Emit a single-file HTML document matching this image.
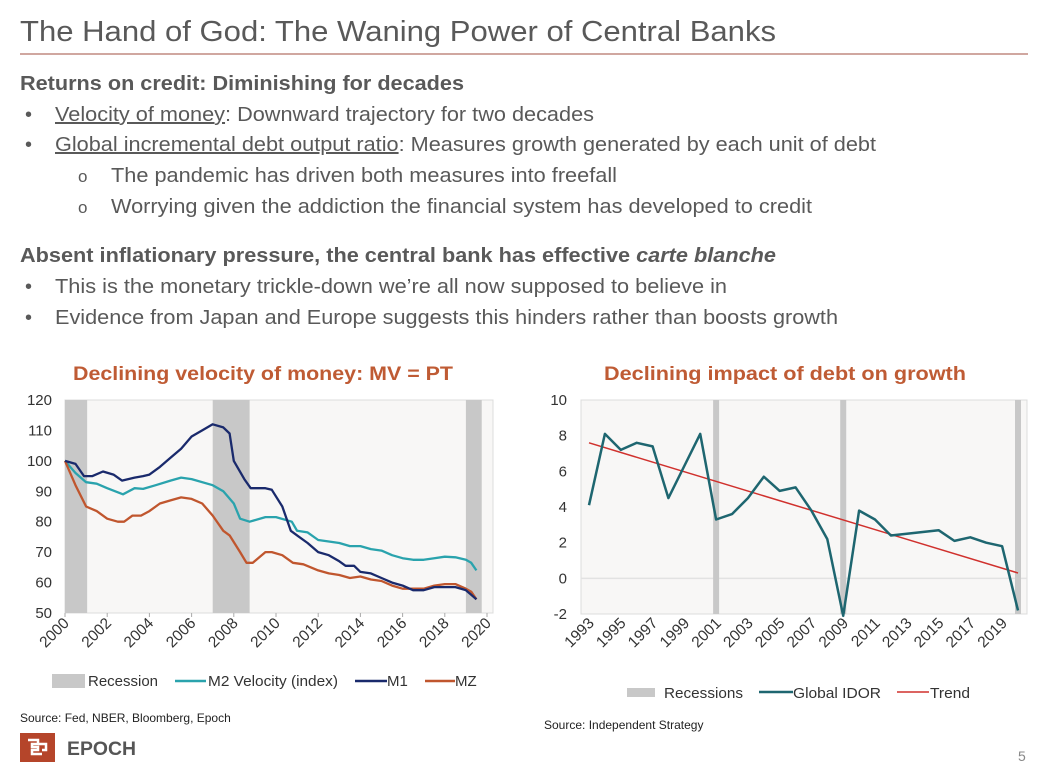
<!DOCTYPE html>
<html><head><meta charset="utf-8"><style>
html,body{margin:0;padding:0;background:#fff;}
svg{display:block;font-family:"Liberation Sans",Arial,sans-serif;}
</style></head><body>
<svg id="root" width="1058" height="770" viewBox="0 0 1058 770" xmlns="http://www.w3.org/2000/svg">
<text x="20" y="41" font-size="29" fill="#595959" textLength="756" lengthAdjust="spacingAndGlyphs">The Hand of God: The Waning Power of Central Banks</text>
<line x1="20" y1="54" x2="1028" y2="54" stroke="#c08a80" stroke-width="1.5"/>
<g fill="#595959" font-size="20">
<text x="20" y="90" font-weight="bold" textLength="444" lengthAdjust="spacingAndGlyphs">Returns on credit: Diminishing for decades</text>
<text x="25" y="121">•</text>
<text x="55" y="121" textLength="539" lengthAdjust="spacingAndGlyphs"><tspan text-decoration="underline">Velocity of money</tspan>: Downward trajectory for two decades</text>
<text x="25" y="151">•</text>
<text x="55" y="151" textLength="821" lengthAdjust="spacingAndGlyphs"><tspan text-decoration="underline">Global incremental debt output ratio</tspan>: Measures growth generated by each unit of debt</text>
<text x="78" y="182" font-size="17">o</text>
<text x="111" y="182" textLength="506" lengthAdjust="spacingAndGlyphs">The pandemic has driven both measures into freefall</text>
<text x="78" y="213" font-size="17">o</text>
<text x="111" y="213" textLength="701" lengthAdjust="spacingAndGlyphs">Worrying given the addiction the financial system has developed to credit</text>
<text x="20" y="262" font-weight="bold" textLength="756" lengthAdjust="spacingAndGlyphs">Absent inflationary pressure, the central bank has effective <tspan font-style="italic">carte blanche</tspan></text>
<text x="25" y="293">•</text>
<text x="55" y="293" textLength="672" lengthAdjust="spacingAndGlyphs">This is the monetary trickle-down we’re all now supposed to believe in</text>
<text x="25" y="324">•</text>
<text x="55" y="324" textLength="783" lengthAdjust="spacingAndGlyphs">Evidence from Japan and Europe suggests this hinders rather than boosts growth</text>
</g>
<text x="73" y="380" font-size="19" font-weight="bold" fill="#bf5b34" textLength="380" lengthAdjust="spacingAndGlyphs">Declining velocity of money: MV = PT</text>
<text x="604" y="380" font-size="19" font-weight="bold" fill="#bf5b34" textLength="362" lengthAdjust="spacingAndGlyphs">Declining impact of debt on growth</text>
<g id="left"></g>
<g id="right"></g>
<g font-size="15" fill="#333">
<rect x="52" y="674" width="33" height="14" fill="#c8c8c8"/>
<text x="88" y="686" textLength="70" lengthAdjust="spacingAndGlyphs">Recession</text>
<line x1="175" y1="681" x2="206" y2="681" stroke="#2aa3ad" stroke-width="2.5"/>
<text x="208" y="686" textLength="130" lengthAdjust="spacingAndGlyphs">M2 Velocity (index)</text>
<line x1="355" y1="681" x2="387" y2="681" stroke="#1a2a6c" stroke-width="2.5"/>
<text x="387" y="686">M1</text>
<line x1="425" y1="681" x2="455" y2="681" stroke="#c0562e" stroke-width="2.5"/>
<text x="455" y="686">MZ</text>
</g>
<g font-size="15" fill="#333">
<rect x="627" y="688" width="28" height="9" fill="#c8c8c8"/>
<text x="664" y="698" textLength="79" lengthAdjust="spacingAndGlyphs">Recessions</text>
<line x1="759" y1="692" x2="793" y2="692" stroke="#1e6670" stroke-width="2.5"/>
<text x="793" y="698" textLength="88" lengthAdjust="spacingAndGlyphs">Global IDOR</text>
<line x1="897" y1="692" x2="929" y2="692" stroke="#d0312d" stroke-width="1.5"/>
<text x="930" y="698" textLength="40" lengthAdjust="spacingAndGlyphs">Trend</text>
</g>
<text x="20" y="722" font-size="12" fill="#222">Source: Fed, NBER, Bloomberg, Epoch</text>
<text x="544" y="729" font-size="12" fill="#222">Source: Independent Strategy</text>
<g>
<rect x="20" y="733" width="35" height="29" fill="#b5452a"/>
<path d="M28 740h10v4h-6v3h6v3h-6v4h10" fill="none" stroke="#fff" stroke-width="2.5"/>
<path d="M38 744h8v6h-4" fill="none" stroke="#fff" stroke-width="2.5"/>
<text x="67" y="755" font-size="19" font-weight="bold" fill="#555" textLength="69" lengthAdjust="spacingAndGlyphs">EPOCH</text>
</g>
<text x="1018" y="761" font-size="14" fill="#888">5</text>
</svg>
<script>
// Left chart data
const m2X = [2000,2000.5,2001,2001.5,2002,2002.75,2003.3,2003.7,2004.3,2005,2005.5,2006,2007,2007.5,2008,2008.3,2008.75,2009.5,2010,2010.75,2011,2011.5,2012,2012.5,2013,2013.5,2014,2014.5,2015,2015.5,2016,2016.5,2017,2017.5,2018,2018.5,2019,2019.25,2019.5];
const m2Y = [100,96,93,92.5,91,89,91,90.8,92,93.5,94.5,94,92,90,86,81,80,81.5,81.5,80,77,76.5,74,73.5,73,72,72,71,70.5,69,68,67.5,67.5,68,68.5,68.3,67.5,66.5,64];
const m1X = [2000,2000.5,2000.9,2001.3,2001.8,2002.3,2002.7,2003.3,2003.7,2004,2004.5,2005,2005.5,2006,2006.5,2007,2007.5,2007.8,2008,2008.5,2008.8,2009.5,2009.8,2010.3,2010.7,2011,2011.5,2012,2012.5,2013,2013.3,2013.7,2014,2014.5,2015,2015.5,2016,2016.5,2017,2017.5,2018,2018.5,2019,2019.25,2019.5];
const m1Y = [100,99,95,95,96.5,95.5,93.5,94.5,95,95.5,98,101,104,108,110,112,111,109,100,94,91,91,90.5,85,77,75.5,73,70,69,67,65.5,65.5,63.5,63,61.5,60,59,57.5,57.5,58.5,58.5,58.5,57.5,56,54.5];
const mzX = [2000,2000.5,2001,2001.5,2002,2002.5,2002.8,2003.2,2003.6,2004,2004.5,2005,2005.5,2006,2006.5,2007,2007.5,2007.8,2008.3,2008.6,2008.9,2009.5,2009.8,2010.3,2010.8,2011.3,2012,2012.5,2013,2013.5,2014,2014.5,2015,2015.5,2016,2016.5,2017,2017.5,2018,2018.5,2019,2019.25,2019.5];
const mzY = [100,92,85,83.5,81,80,80,82,82,83.5,86,87,88,87.5,86,82,77,75.5,70,66.5,66.5,70,70,69,66.5,66,64,63,62.5,61.5,62,61,60.5,59,58,58,58,59,59.5,59.5,58,57,54.5];
const recStart = [2000,2007,2019];
const recEnd = [2001.05,2008.75,2019.75];
const leftYTicks = [50,60,70,80,90,100,110,120];
const leftXTicks = [2000,2002,2004,2006,2008,2010,2012,2014,2016,2018,2020];
// Right chart data
const idorYears = [1993,1994,1995,1996,1997,1998,1999,2000,2001,2002,2003,2004,2005,2006,2007,2008,2009,2010,2011,2012,2013,2014,2015,2016,2017,2018,2019,2020];
const idorValues = [4.1,8.1,7.2,7.6,7.4,4.5,6.3,8.1,3.3,3.6,4.5,5.7,4.9,5.1,3.8,2.2,-2.1,3.8,3.3,2.4,2.5,2.6,2.7,2.1,2.3,2.0,1.8,-1.8];
const trendYears = [1993,2020];
const trendValues = [7.6,0.3];
const recYears = [2001,2009,2020];
const rightYTicks = [-2,0,2,4,6,8,10];
const rightXTicks = [1993,1995,1997,1999,2001,2003,2005,2007,2009,2011,2013,2015,2017,2019];

const NS='http://www.w3.org/2000/svg';
function mk(parent,tag,attrs){const e=document.createElementNS(NS,tag);for(const k in attrs)e.setAttribute(k,attrs[k]);parent.appendChild(e);return e;}

// LEFT
const L=document.getElementById('left');
const lx=v=>65+(v-2000)*(487-65)/20;
const ly=v=>613-(v-50)*(613-400)/70;
let el=mk(L,'rect',{x:65,y:400,width:428,height:213,fill:'#f8f7f6',stroke:'#dcdcdc'});


for(let i=0;i<recStart.length;i++){
  el=mk(L,'rect',{x:lx(recStart[i]),y:400,width:lx(recEnd[i])-lx(recStart[i]),height:213,fill:'#c8c8c8'});
  
  
}
leftYTicks.forEach(t=>{
  el=mk(L,'text',{x:52,y:ly(t)+5,'font-size':15,fill:'#333','text-anchor':'end'});el.textContent=t;
  
  
});
leftXTicks.forEach(t=>{
  const x=lx(t);
  mk(L,'line',{x1:x,y1:613,x2:x,y2:617,stroke:'#aaa'});
  el=mk(L,'text',{x:x+5,y:624,'font-size':15.5,fill:'#333','text-anchor':'end',transform:`rotate(-45 ${x+5} 624)`});el.textContent=t;
  
  
});
function line(g,xs,ys,fx,fy,color,w,name){
  const d=xs.map((v,i)=>(i?'L':'M')+fx(v).toFixed(1)+' '+fy(ys[i]).toFixed(1)).join('');
  const p=mk(g,'path',{d,fill:'none',stroke:color,'stroke-width':w,'stroke-linejoin':'round'});
  
  
}
line(L,m2X,m2Y,lx,ly,'#2aa3ad',2.3,'m2-velocity-line');
line(L,mzX,mzY,lx,ly,'#c0562e',2.3,'mz-line');
line(L,m1X,m1Y,lx,ly,'#1a2a6c',2.3,'m1-line');

// RIGHT
const R=document.getElementById('right');
const rx=v=>589+(v-1993)*(1018-589)/27;
const ry=v=>614-(v+2)*(614-400)/12;
el=mk(R,'rect',{x:581,y:400,width:446,height:214,fill:'#f8f7f6',stroke:'#dcdcdc'});


mk(R,'line',{x1:581,y1:ry(0),x2:1027,y2:ry(0),stroke:'#e2e2e2','stroke-width':1.5});
recYears.forEach(y=>{
  el=mk(R,'rect',{x:rx(y)-3,y:400,width:6,height:214,fill:'#c8c8c8'});
  
  
});
rightYTicks.forEach(t=>{
  el=mk(R,'text',{x:567,y:ry(t)+5,'font-size':15,fill:'#333','text-anchor':'end'});el.textContent=t;
  
  
});
rightXTicks.forEach(t=>{
  const x=rx(t);
  el=mk(R,'text',{x:x+6,y:624,'font-size':15.5,fill:'#333','text-anchor':'end',transform:`rotate(-45 ${x+6} 624)`});el.textContent=t;
  
  
});
line(R,trendYears,trendValues,rx,ry,'#d0312d',1.5,'trend-line');
line(R,idorYears,idorValues,rx,ry,'#1e6670',2.5,'idor-line');
</script>
</body></html>
